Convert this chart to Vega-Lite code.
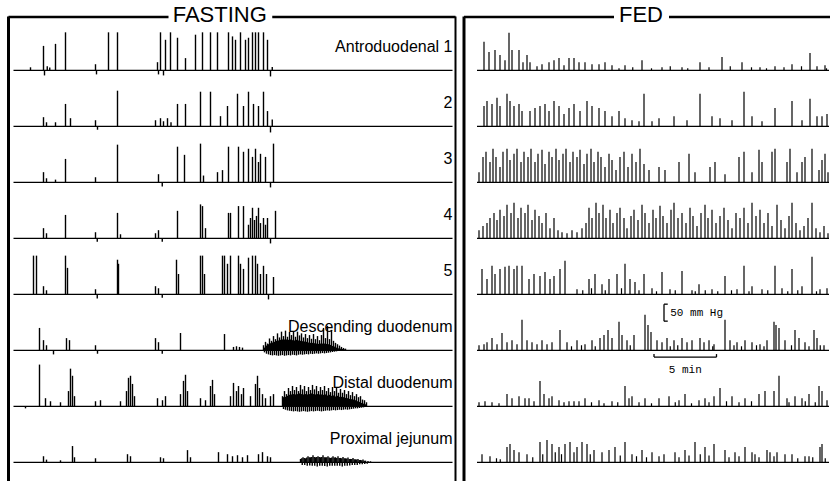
{
"$schema":"https://vega.github.io/schema/vega-lite/v6.json",
"padding":{"left":6.5,"top":0,"right":0,"bottom":0},
"background":"white",
"spacing":4.5,
"config":{"view":{"stroke":null},"font":"Liberation Sans"},
"datasets":{
"fasting":[
{"c":1,"label":"Antroduodenal 1"},{"c":2,"label":"2"},{"c":3,"label":"3"},{"c":4,"label":"4"},{"c":5,"label":"5"},{"c":6,"label":"Descending duodenum"},{"c":7,"label":"Distal duodenum"},{"c":8,"label":"Proximal jejunum"},
{"c":1,"t":1.76,"h":9},{"c":1,"t":2.8,"h":72},{"c":1,"t":2.88,"h":-15},{"c":1,"t":3.1,"h":12},{"c":1,"t":3.3,"h":8},{"c":1,"t":3.76,"h":78},{"c":1,"t":4.56,"h":112},{"c":1,"t":6.96,"h":18},{"c":1,"t":7.04,"h":-12},{"c":1,"t":8.0,"h":112},{"c":1,"t":8.72,"h":112},{"c":1,"t":11.92,"h":24},{"c":1,"t":12.0,"h":-12},{"c":1,"t":12.16,"h":112},{"c":1,"t":12.4,"h":-15},{"c":1,"t":12.56,"h":90},{"c":1,"t":12.96,"h":112},{"c":1,"t":13.52,"h":96},{"c":1,"t":14.16,"h":36},{"c":1,"t":14.96,"h":105},{"c":1,"t":15.52,"h":112},{"c":1,"t":16.16,"h":112},{"c":1,"t":16.72,"h":112},{"c":1,"t":17.6,"h":112},{"c":1,"t":17.92,"h":100},{"c":1,"t":18.16,"h":90},{"c":1,"t":18.56,"h":112},{"c":1,"t":18.96,"h":90},{"c":1,"t":19.2,"h":96},{"c":1,"t":19.52,"h":112},{"c":1,"t":19.76,"h":112},{"c":1,"t":20.0,"h":112},{"c":1,"t":20.4,"h":112},{"c":1,"t":20.72,"h":90},{"c":1,"t":20.96,"h":-18},{"c":1,"t":21.1,"h":10},
{"c":2,"t":2.8,"h":27},{"c":2,"t":3.04,"h":12},{"c":2,"t":3.76,"h":12},{"c":2,"t":4.56,"h":66},{"c":2,"t":4.96,"h":24},{"c":2,"t":6.96,"h":18},{"c":2,"t":7.12,"h":-10},{"c":2,"t":8.72,"h":105},{"c":2,"t":11.76,"h":18},{"c":2,"t":12.16,"h":24},{"c":2,"t":12.4,"h":15},{"c":2,"t":12.72,"h":24},{"c":2,"t":13.0,"h":12},{"c":2,"t":13.52,"h":66},{"c":2,"t":14.16,"h":66},{"c":2,"t":15.36,"h":102},{"c":2,"t":16.16,"h":102},{"c":2,"t":16.96,"h":30},{"c":2,"t":17.52,"h":60},{"c":2,"t":18.32,"h":96},{"c":2,"t":18.8,"h":60},{"c":2,"t":19.2,"h":102},{"c":2,"t":19.6,"h":66},{"c":2,"t":20.0,"h":60},{"c":2,"t":20.4,"h":102},{"c":2,"t":20.72,"h":45},{"c":2,"t":20.96,"h":-18},{"c":2,"t":21.1,"h":20},
{"c":3,"t":2.8,"h":30},{"c":3,"t":3.04,"h":12},{"c":3,"t":3.76,"h":8},{"c":3,"t":4.56,"h":69},{"c":3,"t":6.96,"h":15},{"c":3,"t":8.72,"h":111},{"c":3,"t":12.0,"h":24},{"c":3,"t":12.3,"h":-12},{"c":3,"t":13.52,"h":105},{"c":3,"t":14.08,"h":81},{"c":3,"t":15.36,"h":114},{"c":3,"t":15.6,"h":20},{"c":3,"t":16.72,"h":30},{"c":3,"t":17.12,"h":36},{"c":3,"t":17.6,"h":105},{"c":3,"t":18.4,"h":105},{"c":3,"t":18.8,"h":90},{"c":3,"t":19.2,"h":99},{"c":3,"t":19.52,"h":75},{"c":3,"t":19.76,"h":99},{"c":3,"t":20.0,"h":60},{"c":3,"t":20.16,"h":84},{"c":3,"t":20.56,"h":75},{"c":3,"t":20.96,"h":-15},{"c":3,"t":21.2,"h":114},
{"c":4,"t":2.8,"h":30},{"c":4,"t":3.04,"h":15},{"c":4,"t":4.56,"h":69},{"c":4,"t":6.96,"h":18},{"c":4,"t":7.1,"h":-10},{"c":4,"t":8.72,"h":75},{"c":4,"t":8.96,"h":12},{"c":4,"t":11.76,"h":15},{"c":4,"t":12.0,"h":24},{"c":4,"t":12.3,"h":-10},{"c":4,"t":13.52,"h":81},{"c":4,"t":15.36,"h":100},{"c":4,"t":15.52,"h":95},{"c":4,"t":15.76,"h":30},{"c":4,"t":17.6,"h":75},{"c":4,"t":17.76,"h":75},{"c":4,"t":18.4,"h":95},{"c":4,"t":18.8,"h":95},{"c":4,"t":19.2,"h":40},{"c":4,"t":19.36,"h":60},{"c":4,"t":19.52,"h":90},{"c":4,"t":19.68,"h":54},{"c":4,"t":19.84,"h":66},{"c":4,"t":20.0,"h":90},{"c":4,"t":20.16,"h":45},{"c":4,"t":20.4,"h":60},{"c":4,"t":20.56,"h":40},{"c":4,"t":20.72,"h":60},{"c":4,"t":20.96,"h":-15},{"c":4,"t":21.36,"h":81},
{"c":5,"t":2.0,"h":114},{"c":5,"t":2.24,"h":114},{"c":5,"t":2.8,"h":24},{"c":5,"t":3.04,"h":12},{"c":5,"t":4.56,"h":114},{"c":5,"t":4.72,"h":78},{"c":5,"t":6.96,"h":15},{"c":5,"t":7.1,"h":-12},{"c":5,"t":8.72,"h":102},{"c":5,"t":8.8,"h":90},{"c":5,"t":11.76,"h":24},{"c":5,"t":12.0,"h":18},{"c":5,"t":12.3,"h":-10},{"c":5,"t":13.44,"h":102},{"c":5,"t":13.6,"h":60},{"c":5,"t":15.36,"h":114},{"c":5,"t":15.52,"h":114},{"c":5,"t":15.68,"h":60},{"c":5,"t":17.12,"h":114},{"c":5,"t":17.28,"h":114},{"c":5,"t":17.52,"h":90},{"c":5,"t":17.76,"h":114},{"c":5,"t":18.4,"h":114},{"c":5,"t":18.56,"h":90},{"c":5,"t":18.8,"h":75},{"c":5,"t":19.2,"h":108},{"c":5,"t":19.52,"h":114},{"c":5,"t":19.76,"h":114},{"c":5,"t":19.92,"h":90},{"c":5,"t":20.16,"h":60},{"c":5,"t":20.4,"h":84},{"c":5,"t":20.64,"h":60},{"c":5,"t":20.8,"h":-15},{"c":5,"t":21.2,"h":51},
{"c":6,"t":2.48,"h":66},{"c":6,"t":2.8,"h":30},{"c":6,"t":3.04,"h":15},{"c":6,"t":3.6,"h":-12},{"c":6,"t":4.64,"h":36},{"c":6,"t":4.88,"h":30},{"c":6,"t":6.96,"h":15},{"c":6,"t":7.12,"h":-10},{"c":6,"t":11.76,"h":36},{"c":6,"t":12.0,"h":24},{"c":6,"t":12.3,"h":-10},{"c":6,"t":13.76,"h":51},{"c":6,"t":17.28,"h":48},{"c":6,"t":18.0,"h":10},{"c":6,"t":18.24,"h":12},{"c":6,"t":18.48,"h":10},{"c":6,"t":18.72,"h":8},
{"c":6,"t":20.4,"h":15},{"c":6,"t":20.56,"h":25},{"c":6,"t":20.72,"h":20},{"c":6,"t":20.88,"h":35},{"c":6,"t":21.04,"h":28},{"c":6,"t":21.2,"h":42},{"c":6,"t":21.36,"h":33},{"c":6,"t":21.52,"h":50},{"c":6,"t":21.68,"h":38},{"c":6,"t":21.84,"h":55},{"c":6,"t":22.0,"h":42},{"c":6,"t":22.16,"h":58},{"c":6,"t":22.32,"h":40},{"c":6,"t":22.48,"h":54},{"c":6,"t":22.64,"h":45},{"c":6,"t":22.8,"h":57},{"c":6,"t":22.96,"h":40},{"c":6,"t":23.12,"h":55},{"c":6,"t":23.28,"h":44},{"c":6,"t":23.44,"h":50},{"c":6,"t":23.6,"h":38},{"c":6,"t":23.76,"h":48},{"c":6,"t":23.92,"h":36},{"c":6,"t":24.08,"h":45},{"c":6,"t":24.24,"h":34},{"c":6,"t":24.4,"h":48},{"c":6,"t":24.56,"h":33},{"c":6,"t":24.72,"h":42},{"c":6,"t":24.88,"h":30},{"c":6,"t":25.04,"h":45},{"c":6,"t":25.2,"h":66},{"c":6,"t":25.36,"h":36},{"c":6,"t":25.52,"h":72},{"c":6,"t":25.68,"h":33},{"c":6,"t":25.84,"h":60},{"c":6,"t":26.0,"h":28},{"c":6,"t":26.16,"h":22},{"c":6,"t":26.32,"h":18},{"c":6,"t":26.48,"h":14},{"c":6,"t":26.64,"h":10},{"c":6,"t":26.8,"h":7},{"c":6,"t":26.96,"h":5},
{"c":6,"t":20.48,"h":8},{"c":6,"t":20.64,"h":14},{"c":6,"t":20.8,"h":18},{"c":6,"t":20.96,"h":21},{"c":6,"t":21.12,"h":23},{"c":6,"t":21.28,"h":25},{"c":6,"t":21.44,"h":28},{"c":6,"t":21.6,"h":29},{"c":6,"t":21.76,"h":31},{"c":6,"t":21.92,"h":32},{"c":6,"t":22.08,"h":32},{"c":6,"t":22.24,"h":32},{"c":6,"t":22.4,"h":31},{"c":6,"t":22.56,"h":32},{"c":6,"t":22.72,"h":30},{"c":6,"t":22.88,"h":29},{"c":6,"t":23.04,"h":31},{"c":6,"t":23.2,"h":29},{"c":6,"t":23.36,"h":28},{"c":6,"t":23.52,"h":27},{"c":6,"t":23.68,"h":26},{"c":6,"t":23.84,"h":25},{"c":6,"t":24.0,"h":23},{"c":6,"t":24.16,"h":22},{"c":6,"t":24.32,"h":22},{"c":6,"t":24.48,"h":21},{"c":6,"t":24.64,"h":20},{"c":6,"t":24.8,"h":19},{"c":6,"t":24.96,"h":20},{"c":6,"t":25.12,"h":20},{"c":6,"t":25.28,"h":20},{"c":6,"t":25.44,"h":19},{"c":6,"t":25.6,"h":18},{"c":6,"t":25.76,"h":16},{"c":6,"t":25.92,"h":13},{"c":6,"t":26.08,"h":11},{"c":6,"t":26.24,"h":8},{"c":6,"t":26.4,"h":6},{"c":6,"t":26.56,"h":5},{"c":6,"t":26.72,"h":4},{"c":6,"t":26.88,"h":3},
{"c":6,"t":20.48,"h":-6},{"c":6,"t":20.64,"h":-10},{"c":6,"t":20.8,"h":-12},{"c":6,"t":20.96,"h":-14},{"c":6,"t":21.12,"h":-15},{"c":6,"t":21.28,"h":-14},{"c":6,"t":21.44,"h":-15},{"c":6,"t":21.6,"h":-16},{"c":6,"t":21.76,"h":-15},{"c":6,"t":21.92,"h":-14},{"c":6,"t":22.08,"h":-16},{"c":6,"t":22.24,"h":-15},{"c":6,"t":22.4,"h":-14},{"c":6,"t":22.56,"h":-15},{"c":6,"t":22.72,"h":-13},{"c":6,"t":22.88,"h":-14},{"c":6,"t":23.04,"h":-15},{"c":6,"t":23.2,"h":-13},{"c":6,"t":23.36,"h":-12},{"c":6,"t":23.52,"h":-13},{"c":6,"t":23.68,"h":-12},{"c":6,"t":23.84,"h":-11},{"c":6,"t":24.0,"h":-12},{"c":6,"t":24.16,"h":-10},{"c":6,"t":24.32,"h":-11},{"c":6,"t":24.48,"h":-10},{"c":6,"t":24.64,"h":-9},{"c":6,"t":24.8,"h":-10},{"c":6,"t":24.96,"h":-9},{"c":6,"t":25.12,"h":-8},{"c":6,"t":25.28,"h":-9},{"c":6,"t":25.44,"h":-8},{"c":6,"t":25.6,"h":-7},{"c":6,"t":25.76,"h":-6},{"c":6,"t":25.92,"h":-5},{"c":6,"t":26.08,"h":-4},{"c":6,"t":26.24,"h":-3},
{"c":7,"t":1.36,"h":-6},{"c":7,"t":2.48,"h":123},{"c":7,"t":2.96,"h":24},{"c":7,"t":3.36,"h":15},{"c":7,"t":4.16,"h":12},{"c":7,"t":4.8,"h":45},{"c":7,"t":4.96,"h":111},{"c":7,"t":5.12,"h":90},{"c":7,"t":5.28,"h":30},{"c":7,"t":6.96,"h":15},{"c":7,"t":7.36,"h":18},{"c":7,"t":8.96,"h":15},{"c":7,"t":9.44,"h":45},{"c":7,"t":9.6,"h":84},{"c":7,"t":9.76,"h":90},{"c":7,"t":9.92,"h":66},{"c":7,"t":10.08,"h":30},{"c":7,"t":11.92,"h":24},{"c":7,"t":12.32,"h":18},{"c":7,"t":12.56,"h":30},{"c":7,"t":13.76,"h":36},{"c":7,"t":14.0,"h":75},{"c":7,"t":14.16,"h":93},{"c":7,"t":14.32,"h":45},{"c":7,"t":15.36,"h":24},{"c":7,"t":15.76,"h":18},{"c":7,"t":16.16,"h":60},{"c":7,"t":16.32,"h":78},{"c":7,"t":16.48,"h":36},{"c":7,"t":17.76,"h":30},{"c":7,"t":18.0,"h":69},{"c":7,"t":18.24,"h":45},{"c":7,"t":18.4,"h":60},{"c":7,"t":18.64,"h":36},{"c":7,"t":18.8,"h":54},{"c":7,"t":19.36,"h":30},{"c":7,"t":19.76,"h":66},{"c":7,"t":19.92,"h":90},{"c":7,"t":20.08,"h":54},{"c":7,"t":20.32,"h":36},{"c":7,"t":20.56,"h":24},{"c":7,"t":20.96,"h":30},{"c":7,"t":21.2,"h":36},
{"c":7,"t":21.92,"h":30},{"c":7,"t":22.08,"h":45},{"c":7,"t":22.24,"h":36},{"c":7,"t":22.4,"h":54},{"c":7,"t":22.56,"h":45},{"c":7,"t":22.72,"h":60},{"c":7,"t":22.88,"h":48},{"c":7,"t":23.04,"h":57},{"c":7,"t":23.2,"h":45},{"c":7,"t":23.36,"h":63},{"c":7,"t":23.52,"h":50},{"c":7,"t":23.68,"h":60},{"c":7,"t":23.84,"h":45},{"c":7,"t":24.0,"h":57},{"c":7,"t":24.16,"h":48},{"c":7,"t":24.32,"h":63},{"c":7,"t":24.48,"h":50},{"c":7,"t":24.64,"h":60},{"c":7,"t":24.8,"h":45},{"c":7,"t":24.96,"h":57},{"c":7,"t":25.12,"h":48},{"c":7,"t":25.28,"h":60},{"c":7,"t":25.44,"h":45},{"c":7,"t":25.6,"h":54},{"c":7,"t":25.76,"h":42},{"c":7,"t":25.92,"h":57},{"c":7,"t":26.08,"h":45},{"c":7,"t":26.24,"h":54},{"c":7,"t":26.4,"h":40},{"c":7,"t":26.56,"h":51},{"c":7,"t":26.72,"h":40},{"c":7,"t":26.88,"h":48},{"c":7,"t":27.04,"h":36},{"c":7,"t":27.2,"h":45},{"c":7,"t":27.36,"h":33},{"c":7,"t":27.52,"h":42},{"c":7,"t":27.68,"h":30},{"c":7,"t":27.84,"h":36},{"c":7,"t":28.0,"h":27},{"c":7,"t":28.16,"h":30},{"c":7,"t":28.32,"h":20},{"c":7,"t":28.48,"h":18},{"c":7,"t":28.64,"h":12},
{"c":7,"t":22.0,"h":27},{"c":7,"t":22.16,"h":28},{"c":7,"t":22.32,"h":31},{"c":7,"t":22.48,"h":34},{"c":7,"t":22.64,"h":35},{"c":7,"t":22.8,"h":36},{"c":7,"t":22.96,"h":35},{"c":7,"t":23.12,"h":36},{"c":7,"t":23.28,"h":38},{"c":7,"t":23.44,"h":36},{"c":7,"t":23.6,"h":35},{"c":7,"t":23.76,"h":36},{"c":7,"t":23.92,"h":35},{"c":7,"t":24.08,"h":36},{"c":7,"t":24.24,"h":38},{"c":7,"t":24.4,"h":36},{"c":7,"t":24.56,"h":35},{"c":7,"t":24.72,"h":36},{"c":7,"t":24.88,"h":35},{"c":7,"t":25.04,"h":35},{"c":7,"t":25.2,"h":34},{"c":7,"t":25.36,"h":35},{"c":7,"t":25.52,"h":32},{"c":7,"t":25.68,"h":34},{"c":7,"t":25.84,"h":31},{"c":7,"t":26.0,"h":32},{"c":7,"t":26.16,"h":29},{"c":7,"t":26.32,"h":31},{"c":7,"t":26.48,"h":28},{"c":7,"t":26.64,"h":28},{"c":7,"t":26.8,"h":27},{"c":7,"t":26.96,"h":25},{"c":7,"t":27.12,"h":24},{"c":7,"t":27.28,"h":22},{"c":7,"t":27.44,"h":21},{"c":7,"t":27.6,"h":20},{"c":7,"t":27.76,"h":18},{"c":7,"t":27.92,"h":15},{"c":7,"t":28.08,"h":13},{"c":7,"t":28.24,"h":10},{"c":7,"t":28.4,"h":8},{"c":7,"t":28.56,"h":6},
{"c":7,"t":22.0,"h":-8},{"c":7,"t":22.16,"h":-10},{"c":7,"t":22.32,"h":-12},{"c":7,"t":22.48,"h":-13},{"c":7,"t":22.64,"h":-14},{"c":7,"t":22.8,"h":-15},{"c":7,"t":22.96,"h":-14},{"c":7,"t":23.12,"h":-15},{"c":7,"t":23.28,"h":-16},{"c":7,"t":23.44,"h":-15},{"c":7,"t":23.6,"h":-14},{"c":7,"t":23.76,"h":-15},{"c":7,"t":23.92,"h":-16},{"c":7,"t":24.08,"h":-15},{"c":7,"t":24.24,"h":-14},{"c":7,"t":24.4,"h":-15},{"c":7,"t":24.56,"h":-14},{"c":7,"t":24.72,"h":-13},{"c":7,"t":24.88,"h":-14},{"c":7,"t":25.04,"h":-15},{"c":7,"t":25.2,"h":-14},{"c":7,"t":25.36,"h":-13},{"c":7,"t":25.52,"h":-12},{"c":7,"t":25.68,"h":-13},{"c":7,"t":25.84,"h":-12},{"c":7,"t":26.0,"h":-11},{"c":7,"t":26.16,"h":-12},{"c":7,"t":26.32,"h":-11},{"c":7,"t":26.48,"h":-10},{"c":7,"t":26.64,"h":-11},{"c":7,"t":26.8,"h":-10},{"c":7,"t":26.96,"h":-9},{"c":7,"t":27.12,"h":-10},{"c":7,"t":27.28,"h":-9},{"c":7,"t":27.44,"h":-8},{"c":7,"t":27.6,"h":-7},{"c":7,"t":27.76,"h":-6},{"c":7,"t":27.92,"h":-6},{"c":7,"t":28.08,"h":-5},{"c":7,"t":28.24,"h":-4},{"c":7,"t":28.4,"h":-3},
{"c":8,"t":2.8,"h":18},{"c":8,"t":3.04,"h":8},{"c":8,"t":4.16,"h":6},{"c":8,"t":5.12,"h":48},{"c":8,"t":5.28,"h":15},{"c":8,"t":6.96,"h":12},{"c":8,"t":9.52,"h":24},{"c":8,"t":9.76,"h":18},{"c":8,"t":12.16,"h":15},{"c":8,"t":12.4,"h":12},{"c":8,"t":14.32,"h":36},{"c":8,"t":14.56,"h":15},{"c":8,"t":16.8,"h":30},{"c":8,"t":17.52,"h":24},{"c":8,"t":17.92,"h":18},{"c":8,"t":18.32,"h":21},{"c":8,"t":18.72,"h":15},{"c":8,"t":19.12,"h":21},{"c":8,"t":20.0,"h":24},{"c":8,"t":20.32,"h":30},{"c":8,"t":20.72,"h":18},{"c":8,"t":20.96,"h":15},
{"c":8,"t":23.36,"h":10},{"c":8,"t":23.56,"h":15},{"c":8,"t":23.76,"h":12},{"c":8,"t":23.96,"h":18},{"c":8,"t":24.16,"h":15},{"c":8,"t":24.36,"h":21},{"c":8,"t":24.56,"h":15},{"c":8,"t":24.76,"h":18},{"c":8,"t":24.96,"h":15},{"c":8,"t":25.16,"h":21},{"c":8,"t":25.36,"h":15},{"c":8,"t":25.56,"h":18},{"c":8,"t":25.76,"h":13},{"c":8,"t":25.96,"h":18},{"c":8,"t":26.16,"h":15},{"c":8,"t":26.36,"h":18},{"c":8,"t":26.56,"h":13},{"c":8,"t":26.76,"h":16},{"c":8,"t":26.96,"h":12},{"c":8,"t":27.16,"h":14},{"c":8,"t":27.36,"h":10},{"c":8,"t":27.56,"h":13},{"c":8,"t":27.76,"h":9},{"c":8,"t":27.96,"h":10},{"c":8,"t":28.16,"h":7},{"c":8,"t":28.36,"h":8},{"c":8,"t":28.56,"h":5},{"c":8,"t":28.76,"h":4},{"c":8,"t":28.96,"h":3},
{"c":8,"t":23.46,"h":12},{"c":8,"t":23.66,"h":13},{"c":8,"t":23.86,"h":14},{"c":8,"t":24.06,"h":15},{"c":8,"t":24.26,"h":16},{"c":8,"t":24.46,"h":16},{"c":8,"t":24.66,"h":16},{"c":8,"t":24.86,"h":16},{"c":8,"t":25.06,"h":16},{"c":8,"t":25.26,"h":15},{"c":8,"t":25.46,"h":15},{"c":8,"t":25.66,"h":14},{"c":8,"t":25.86,"h":14},{"c":8,"t":26.06,"h":14},{"c":8,"t":26.26,"h":13},{"c":8,"t":26.46,"h":13},{"c":8,"t":26.66,"h":12},{"c":8,"t":26.86,"h":12},{"c":8,"t":27.06,"h":11},{"c":8,"t":27.26,"h":10},{"c":8,"t":27.46,"h":10},{"c":8,"t":27.66,"h":9},{"c":8,"t":27.86,"h":8},{"c":8,"t":28.06,"h":7},{"c":8,"t":28.26,"h":6},{"c":8,"t":28.46,"h":5},
{"c":8,"t":23.5,"h":-8},{"c":8,"t":23.7,"h":-8},{"c":8,"t":23.9,"h":-10},{"c":8,"t":24.1,"h":-9},{"c":8,"t":24.3,"h":-10},{"c":8,"t":24.5,"h":-10},{"c":8,"t":24.7,"h":-12},{"c":8,"t":24.9,"h":-10},{"c":8,"t":25.1,"h":-10},{"c":8,"t":25.3,"h":-11},{"c":8,"t":25.5,"h":-12},{"c":8,"t":25.7,"h":-10},{"c":8,"t":25.9,"h":-10},{"c":8,"t":26.1,"h":-10},{"c":8,"t":26.3,"h":-10},{"c":8,"t":26.5,"h":-10},{"c":8,"t":26.7,"h":-12},{"c":8,"t":26.9,"h":-10},{"c":8,"t":27.1,"h":-10},{"c":8,"t":27.3,"h":-9},{"c":8,"t":27.5,"h":-8},{"c":8,"t":27.7,"h":-8},{"c":8,"t":27.9,"h":-8},{"c":8,"t":28.1,"h":-6},{"c":8,"t":28.3,"h":-6},{"c":8,"t":28.5,"h":-5},{"c":8,"t":28.7,"h":-4}
],
"fed":[
{"c":1,"label":""},{"c":2,"label":""},{"c":3,"label":""},{"c":4,"label":""},{"c":5,"label":""},{"c":6,"label":""},{"c":7,"label":""},{"c":8,"label":""},
{"c":1,"t":1.6,"h":84},{"c":1,"t":2.0,"h":54},{"c":1,"t":2.48,"h":60},{"c":1,"t":2.88,"h":45},{"c":1,"t":3.28,"h":30},{"c":1,"t":3.6,"h":111},{"c":1,"t":3.84,"h":60},{"c":1,"t":4.4,"h":60},{"c":1,"t":4.72,"h":24},{"c":1,"t":5.04,"h":45},{"c":1,"t":5.28,"h":24},{"c":1,"t":5.84,"h":12},{"c":1,"t":6.24,"h":18},{"c":1,"t":6.8,"h":24},{"c":1,"t":7.2,"h":30},{"c":1,"t":7.6,"h":36},{"c":1,"t":8.0,"h":15},{"c":1,"t":8.4,"h":36},{"c":1,"t":8.8,"h":36},{"c":1,"t":9.2,"h":24},{"c":1,"t":9.68,"h":24},{"c":1,"t":10.24,"h":18},{"c":1,"t":10.8,"h":18},{"c":1,"t":11.28,"h":24},{"c":1,"t":11.84,"h":15},{"c":1,"t":12.88,"h":15},{"c":1,"t":14.24,"h":30},{"c":1,"t":15.84,"h":9},{"c":1,"t":17.44,"h":9},{"c":1,"t":18.88,"h":24},{"c":1,"t":20.64,"h":39},{"c":1,"t":22.24,"h":24},{"c":1,"t":23.68,"h":9},{"c":1,"t":24.88,"h":12},{"c":1,"t":26.24,"h":18},{"c":1,"t":27.68,"h":51},{"c":1,"t":28.24,"h":12},{"c":1,"t":28.88,"h":15},
{"c":1,"t":12.4,"h":6},{"c":1,"t":13.5,"h":9},{"c":1,"t":15.0,"h":6},{"c":1,"t":16.5,"h":12},{"c":1,"t":17.9,"h":6},{"c":1,"t":19.6,"h":9},{"c":1,"t":21.3,"h":12},{"c":1,"t":23.0,"h":9},{"c":1,"t":24.2,"h":6},{"c":1,"t":25.6,"h":9},{"c":1,"t":27.0,"h":12},{"c":1,"t":29.0,"h":6},
{"c":2,"t":1.6,"h":60},{"c":2,"t":1.84,"h":75},{"c":2,"t":2.24,"h":66},{"c":2,"t":2.64,"h":84},{"c":2,"t":2.88,"h":60},{"c":2,"t":3.44,"h":96},{"c":2,"t":3.68,"h":75},{"c":2,"t":4.0,"h":60},{"c":2,"t":4.4,"h":66},{"c":2,"t":4.64,"h":45},{"c":2,"t":5.28,"h":45},{"c":2,"t":5.68,"h":54},{"c":2,"t":6.08,"h":60},{"c":2,"t":6.48,"h":66},{"c":2,"t":6.8,"h":45},{"c":2,"t":7.2,"h":75},{"c":2,"t":7.6,"h":60},{"c":2,"t":8.0,"h":36},{"c":2,"t":8.4,"h":54},{"c":2,"t":8.8,"h":66},{"c":2,"t":9.28,"h":45},{"c":2,"t":9.84,"h":75},{"c":2,"t":10.24,"h":60},{"c":2,"t":10.8,"h":54},{"c":2,"t":11.28,"h":45},{"c":2,"t":11.84,"h":30},{"c":2,"t":12.4,"h":45},{"c":2,"t":12.88,"h":24},{"c":2,"t":13.44,"h":18},{"c":2,"t":14.0,"h":15},{"c":2,"t":14.4,"h":96},{"c":2,"t":15.04,"h":15},{"c":2,"t":15.6,"h":24},{"c":2,"t":16.8,"h":30},{"c":2,"t":17.84,"h":18},{"c":2,"t":18.88,"h":96},{"c":2,"t":19.84,"h":30},{"c":2,"t":20.48,"h":24},{"c":2,"t":21.44,"h":18},{"c":2,"t":22.4,"h":102},{"c":2,"t":23.04,"h":30},{"c":2,"t":23.84,"h":15},{"c":2,"t":24.88,"h":54},{"c":2,"t":26.24,"h":75},{"c":2,"t":27.04,"h":18},{"c":2,"t":27.68,"h":81},{"c":2,"t":28.24,"h":30},{"c":2,"t":28.64,"h":30},{"c":2,"t":29.04,"h":36},
{"c":3,"t":1.2,"h":30},{"c":3,"t":1.52,"h":75},{"c":3,"t":1.76,"h":90},{"c":3,"t":2.08,"h":60},{"c":3,"t":2.32,"h":99},{"c":3,"t":2.56,"h":75},{"c":3,"t":2.88,"h":45},{"c":3,"t":3.12,"h":90},{"c":3,"t":3.44,"h":99},{"c":3,"t":3.68,"h":66},{"c":3,"t":4.0,"h":84},{"c":3,"t":4.24,"h":99},{"c":3,"t":4.56,"h":60},{"c":3,"t":4.8,"h":90},{"c":3,"t":5.12,"h":75},{"c":3,"t":5.36,"h":99},{"c":3,"t":5.68,"h":60},{"c":3,"t":5.92,"h":84},{"c":3,"t":6.24,"h":96},{"c":3,"t":6.48,"h":54},{"c":3,"t":6.8,"h":90},{"c":3,"t":7.04,"h":75},{"c":3,"t":7.36,"h":99},{"c":3,"t":7.6,"h":66},{"c":3,"t":7.92,"h":84},{"c":3,"t":8.16,"h":99},{"c":3,"t":8.48,"h":60},{"c":3,"t":8.72,"h":90},{"c":3,"t":9.04,"h":75},{"c":3,"t":9.28,"h":96},{"c":3,"t":9.6,"h":54},{"c":3,"t":9.84,"h":84},{"c":3,"t":10.16,"h":99},{"c":3,"t":10.4,"h":60},{"c":3,"t":10.72,"h":90},{"c":3,"t":10.96,"h":75},{"c":3,"t":11.28,"h":45},{"c":3,"t":11.6,"h":84},{"c":3,"t":11.84,"h":66},{"c":3,"t":12.16,"h":36},{"c":3,"t":12.48,"h":75},{"c":3,"t":12.8,"h":90},{"c":3,"t":13.12,"h":45},{"c":3,"t":13.44,"h":84},{"c":3,"t":13.76,"h":60},{"c":3,"t":14.08,"h":99},{"c":3,"t":14.4,"h":54},{"c":3,"t":14.8,"h":36},{"c":3,"t":15.6,"h":45},{"c":3,"t":16.08,"h":36},{"c":3,"t":17.2,"h":60},{"c":3,"t":18.0,"h":84},{"c":3,"t":18.48,"h":30},{"c":3,"t":19.68,"h":45},{"c":3,"t":20.08,"h":60},{"c":3,"t":20.88,"h":24},{"c":3,"t":22.0,"h":75},{"c":3,"t":22.4,"h":90},{"c":3,"t":23.04,"h":30},{"c":3,"t":23.6,"h":96},{"c":3,"t":23.84,"h":60},{"c":3,"t":24.64,"h":90},{"c":3,"t":24.88,"h":99},{"c":3,"t":25.84,"h":60},{"c":3,"t":26.08,"h":99},{"c":3,"t":26.64,"h":30},{"c":3,"t":27.04,"h":60},{"c":3,"t":27.28,"h":75},{"c":3,"t":27.84,"h":99},{"c":3,"t":28.4,"h":36},{"c":3,"t":28.64,"h":66},{"c":3,"t":28.88,"h":84},{"c":3,"t":29.12,"h":30},
{"c":4,"t":1.2,"h":24},{"c":4,"t":1.52,"h":36},{"c":4,"t":1.84,"h":45},{"c":4,"t":2.08,"h":60},{"c":4,"t":2.4,"h":75},{"c":4,"t":2.64,"h":54},{"c":4,"t":2.88,"h":84},{"c":4,"t":3.2,"h":66},{"c":4,"t":3.44,"h":99},{"c":4,"t":3.76,"h":75},{"c":4,"t":4.0,"h":105},{"c":4,"t":4.32,"h":60},{"c":4,"t":4.56,"h":90},{"c":4,"t":4.88,"h":75},{"c":4,"t":5.12,"h":99},{"c":4,"t":5.44,"h":54},{"c":4,"t":5.68,"h":84},{"c":4,"t":6.0,"h":66},{"c":4,"t":6.24,"h":45},{"c":4,"t":6.56,"h":75},{"c":4,"t":6.88,"h":30},{"c":4,"t":7.2,"h":60},{"c":4,"t":7.52,"h":24},{"c":4,"t":7.84,"h":18},{"c":4,"t":8.24,"h":15},{"c":4,"t":8.64,"h":24},{"c":4,"t":9.04,"h":18},{"c":4,"t":9.44,"h":30},{"c":4,"t":9.76,"h":45},{"c":4,"t":10.0,"h":90},{"c":4,"t":10.24,"h":60},{"c":4,"t":10.56,"h":105},{"c":4,"t":10.8,"h":75},{"c":4,"t":11.12,"h":99},{"c":4,"t":11.36,"h":60},{"c":4,"t":11.68,"h":84},{"c":4,"t":11.92,"h":45},{"c":4,"t":12.24,"h":75},{"c":4,"t":12.48,"h":90},{"c":4,"t":12.8,"h":60},{"c":4,"t":13.04,"h":30},{"c":4,"t":13.36,"h":66},{"c":4,"t":13.6,"h":84},{"c":4,"t":13.92,"h":54},{"c":4,"t":14.24,"h":99},{"c":4,"t":14.48,"h":75},{"c":4,"t":14.8,"h":45},{"c":4,"t":15.12,"h":84},{"c":4,"t":15.36,"h":60},{"c":4,"t":15.68,"h":96},{"c":4,"t":15.92,"h":66},{"c":4,"t":16.24,"h":45},{"c":4,"t":16.56,"h":84},{"c":4,"t":16.8,"h":105},{"c":4,"t":17.12,"h":60},{"c":4,"t":17.44,"h":75},{"c":4,"t":17.76,"h":45},{"c":4,"t":18.08,"h":90},{"c":4,"t":18.32,"h":66},{"c":4,"t":18.64,"h":36},{"c":4,"t":18.96,"h":75},{"c":4,"t":19.28,"h":99},{"c":4,"t":19.52,"h":60},{"c":4,"t":19.84,"h":84},{"c":4,"t":20.16,"h":45},{"c":4,"t":20.48,"h":66},{"c":4,"t":20.8,"h":90},{"c":4,"t":21.12,"h":54},{"c":4,"t":21.44,"h":30},{"c":4,"t":21.76,"h":75},{"c":4,"t":22.08,"h":60},{"c":4,"t":22.4,"h":90},{"c":4,"t":22.72,"h":45},{"c":4,"t":23.04,"h":105},{"c":4,"t":23.36,"h":66},{"c":4,"t":23.68,"h":84},{"c":4,"t":24.0,"h":45},{"c":4,"t":24.32,"h":75},{"c":4,"t":24.64,"h":36},{"c":4,"t":25.04,"h":99},{"c":4,"t":25.36,"h":54},{"c":4,"t":25.68,"h":30},{"c":4,"t":26.0,"h":66},{"c":4,"t":26.24,"h":105},{"c":4,"t":26.56,"h":45},{"c":4,"t":26.88,"h":24},{"c":4,"t":27.2,"h":36},{"c":4,"t":27.52,"h":60},{"c":4,"t":27.84,"h":105},{"c":4,"t":28.16,"h":30},{"c":4,"t":28.48,"h":18},{"c":4,"t":28.8,"h":36},{"c":4,"t":29.12,"h":15},
{"c":5,"t":1.44,"h":75},{"c":5,"t":1.84,"h":45},{"c":5,"t":2.24,"h":84},{"c":5,"t":2.48,"h":60},{"c":5,"t":2.88,"h":75},{"c":5,"t":3.28,"h":81},{"c":5,"t":3.6,"h":84},{"c":5,"t":4.0,"h":75},{"c":5,"t":4.24,"h":84},{"c":5,"t":4.64,"h":84},{"c":5,"t":5.2,"h":45},{"c":5,"t":5.6,"h":60},{"c":5,"t":6.08,"h":54},{"c":5,"t":6.48,"h":66},{"c":5,"t":6.88,"h":45},{"c":5,"t":7.2,"h":54},{"c":5,"t":7.68,"h":75},{"c":5,"t":8.08,"h":99},{"c":5,"t":9.04,"h":15},{"c":5,"t":10.0,"h":45},{"c":5,"t":10.48,"h":60},{"c":5,"t":11.04,"h":30},{"c":5,"t":11.6,"h":45},{"c":5,"t":12.24,"h":60},{"c":5,"t":12.88,"h":90},{"c":5,"t":13.28,"h":45},{"c":5,"t":13.68,"h":36},{"c":5,"t":14.4,"h":60},{"c":5,"t":15.04,"h":18},{"c":5,"t":15.84,"h":66},{"c":5,"t":16.48,"h":15},{"c":5,"t":17.44,"h":69},{"c":5,"t":18.24,"h":12},{"c":5,"t":18.8,"h":30},{"c":5,"t":19.84,"h":15},{"c":5,"t":20.88,"h":54},{"c":5,"t":21.84,"h":15},{"c":5,"t":22.4,"h":84},{"c":5,"t":23.04,"h":24},{"c":5,"t":23.84,"h":15},{"c":5,"t":24.88,"h":84},{"c":5,"t":25.44,"h":18},{"c":5,"t":26.24,"h":75},{"c":5,"t":27.04,"h":24},{"c":5,"t":27.84,"h":111},{"c":5,"t":28.48,"h":15},{"c":5,"t":29.04,"h":18},
{"c":5,"t":9.5,"h":12},{"c":5,"t":10.2,"h":18},{"c":5,"t":11.3,"h":12},{"c":5,"t":12.6,"h":18},{"c":5,"t":14.0,"h":12},{"c":5,"t":15.4,"h":9},{"c":5,"t":16.9,"h":12},{"c":5,"t":18.5,"h":9},{"c":5,"t":19.3,"h":12},{"c":5,"t":20.3,"h":9},{"c":5,"t":21.4,"h":12},{"c":5,"t":22.8,"h":9},{"c":5,"t":24.3,"h":12},{"c":5,"t":25.9,"h":9},{"c":5,"t":26.7,"h":12},{"c":5,"t":28.2,"h":9},
{"c":6,"t":1.2,"h":15},{"c":6,"t":1.6,"h":18},{"c":6,"t":1.84,"h":24},{"c":6,"t":2.24,"h":36},{"c":6,"t":2.64,"h":18},{"c":6,"t":3.04,"h":51},{"c":6,"t":3.44,"h":24},{"c":6,"t":3.84,"h":30},{"c":6,"t":4.24,"h":18},{"c":6,"t":4.64,"h":90},{"c":6,"t":5.04,"h":30},{"c":6,"t":5.44,"h":24},{"c":6,"t":5.84,"h":18},{"c":6,"t":6.24,"h":30},{"c":6,"t":6.64,"h":18},{"c":6,"t":7.04,"h":24},{"c":6,"t":7.68,"h":60},{"c":6,"t":8.24,"h":24},{"c":6,"t":9.04,"h":30},{"c":6,"t":9.68,"h":18},{"c":6,"t":10.24,"h":30},{"c":6,"t":10.88,"h":36},{"c":6,"t":11.2,"h":45},{"c":6,"t":11.52,"h":60},{"c":6,"t":11.84,"h":36},{"c":6,"t":12.4,"h":84},{"c":6,"t":12.64,"h":45},{"c":6,"t":13.04,"h":30},{"c":6,"t":13.6,"h":45},{"c":6,"t":14.48,"h":105},{"c":6,"t":14.72,"h":75},{"c":6,"t":14.96,"h":54},{"c":6,"t":15.44,"h":30},{"c":6,"t":15.84,"h":24},{"c":6,"t":16.24,"h":36},{"c":6,"t":16.8,"h":30},{"c":6,"t":17.44,"h":36},{"c":6,"t":17.84,"h":24},{"c":6,"t":18.24,"h":30},{"c":6,"t":18.88,"h":36},{"c":6,"t":19.2,"h":24},{"c":6,"t":19.6,"h":30},{"c":6,"t":20.0,"h":18},{"c":6,"t":20.88,"h":90},{"c":6,"t":21.28,"h":30},{"c":6,"t":21.84,"h":24},{"c":6,"t":22.48,"h":30},{"c":6,"t":23.04,"h":24},{"c":6,"t":23.68,"h":18},{"c":6,"t":24.24,"h":30},{"c":6,"t":24.8,"h":84},{"c":6,"t":24.96,"h":75},{"c":6,"t":25.2,"h":66},{"c":6,"t":25.68,"h":30},{"c":6,"t":26.48,"h":60},{"c":6,"t":26.8,"h":36},{"c":6,"t":27.28,"h":24},{"c":6,"t":28.0,"h":60},{"c":6,"t":28.24,"h":36},{"c":6,"t":28.8,"h":15},
{"c":6,"t":8.6,"h":12},{"c":6,"t":9.4,"h":15},{"c":6,"t":10.5,"h":12},{"c":6,"t":13.3,"h":15},{"c":6,"t":16.5,"h":12},{"c":6,"t":17.1,"h":15},{"c":6,"t":19.9,"h":12},{"c":6,"t":21.6,"h":15},{"c":6,"t":22.2,"h":12},{"c":6,"t":23.4,"h":15},{"c":6,"t":24.0,"h":12},{"c":6,"t":26.2,"h":15},{"c":6,"t":27.6,"h":12},{"c":6,"t":28.5,"h":15},
{"c":7,"t":1.2,"h":12},{"c":7,"t":1.68,"h":15},{"c":7,"t":2.24,"h":12},{"c":7,"t":3.44,"h":36},{"c":7,"t":3.84,"h":24},{"c":7,"t":4.4,"h":30},{"c":7,"t":4.88,"h":24},{"c":7,"t":5.2,"h":24},{"c":7,"t":6.08,"h":75},{"c":7,"t":6.4,"h":36},{"c":7,"t":6.8,"h":24},{"c":7,"t":7.04,"h":30},{"c":7,"t":7.6,"h":18},{"c":7,"t":8.4,"h":15},{"c":7,"t":8.8,"h":15},{"c":7,"t":9.2,"h":15},{"c":7,"t":9.68,"h":24},{"c":7,"t":10.8,"h":18},{"c":7,"t":11.84,"h":15},{"c":7,"t":12.88,"h":60},{"c":7,"t":13.2,"h":24},{"c":7,"t":13.44,"h":30},{"c":7,"t":14.48,"h":24},{"c":7,"t":15.6,"h":24},{"c":7,"t":16.4,"h":30},{"c":7,"t":17.2,"h":18},{"c":7,"t":17.68,"h":36},{"c":7,"t":18.8,"h":18},{"c":7,"t":19.28,"h":24},{"c":7,"t":20.0,"h":30},{"c":7,"t":20.48,"h":54},{"c":7,"t":21.44,"h":30},{"c":7,"t":22.48,"h":24},{"c":7,"t":23.6,"h":36},{"c":7,"t":24.08,"h":45},{"c":7,"t":24.8,"h":45},{"c":7,"t":25.2,"h":90},{"c":7,"t":25.84,"h":24},{"c":7,"t":26.48,"h":30},{"c":7,"t":27.04,"h":24},{"c":7,"t":27.6,"h":36},{"c":7,"t":28.4,"h":60},{"c":7,"t":28.64,"h":45},{"c":7,"t":29.04,"h":18},
{"c":7,"t":2.8,"h":9},{"c":7,"t":5.6,"h":15},{"c":7,"t":8.0,"h":12},{"c":7,"t":10.2,"h":12},{"c":7,"t":11.2,"h":9},{"c":7,"t":12.3,"h":12},{"c":7,"t":14.0,"h":12},{"c":7,"t":15.0,"h":9},{"c":7,"t":16.9,"h":12},{"c":7,"t":18.2,"h":9},{"c":7,"t":19.6,"h":12},{"c":7,"t":21.0,"h":15},{"c":7,"t":22.0,"h":12},{"c":7,"t":23.0,"h":15},{"c":7,"t":26.0,"h":12},{"c":7,"t":27.3,"h":15},{"c":7,"t":28.1,"h":12},
{"c":8,"t":1.44,"h":24},{"c":8,"t":2.08,"h":18},{"c":8,"t":3.44,"h":45},{"c":8,"t":3.68,"h":54},{"c":8,"t":4.0,"h":36},{"c":8,"t":4.4,"h":30},{"c":8,"t":5.04,"h":24},{"c":8,"t":6.08,"h":60},{"c":8,"t":6.64,"h":66},{"c":8,"t":7.04,"h":54},{"c":8,"t":7.6,"h":45},{"c":8,"t":8.08,"h":54},{"c":8,"t":8.48,"h":60},{"c":8,"t":9.04,"h":45},{"c":8,"t":9.44,"h":60},{"c":8,"t":9.84,"h":54},{"c":8,"t":10.4,"h":36},{"c":8,"t":11.04,"h":30},{"c":8,"t":11.6,"h":36},{"c":8,"t":12.08,"h":45},{"c":8,"t":12.88,"h":60},{"c":8,"t":13.44,"h":24},{"c":8,"t":14.24,"h":36},{"c":8,"t":15.04,"h":30},{"c":8,"t":16.0,"h":24},{"c":8,"t":16.88,"h":30},{"c":8,"t":17.68,"h":36},{"c":8,"t":18.48,"h":60},{"c":8,"t":19.28,"h":45},{"c":8,"t":20.0,"h":54},{"c":8,"t":20.88,"h":36},{"c":8,"t":21.68,"h":30},{"c":8,"t":22.48,"h":45},{"c":8,"t":23.04,"h":30},{"c":8,"t":23.28,"h":24},{"c":8,"t":24.24,"h":36},{"c":8,"t":24.48,"h":30},{"c":8,"t":25.04,"h":30},{"c":8,"t":25.68,"h":24},{"c":8,"t":26.24,"h":24},{"c":8,"t":27.28,"h":18},{"c":8,"t":27.6,"h":18},{"c":8,"t":28.48,"h":45},{"c":8,"t":28.64,"h":54},
{"c":8,"t":2.6,"h":12},{"c":8,"t":2.9,"h":9},{"c":8,"t":5.5,"h":15},{"c":8,"t":6.3,"h":24},{"c":8,"t":7.3,"h":30},{"c":8,"t":7.8,"h":24},{"c":8,"t":8.8,"h":30},{"c":8,"t":10.1,"h":24},{"c":8,"t":12.5,"h":20},{"c":8,"t":13.8,"h":18},{"c":8,"t":14.6,"h":15},{"c":8,"t":15.6,"h":18},{"c":8,"t":17.2,"h":15},{"c":8,"t":18.0,"h":20},{"c":8,"t":18.9,"h":24},{"c":8,"t":19.6,"h":20},{"c":8,"t":21.2,"h":15},{"c":8,"t":22.0,"h":18},{"c":8,"t":23.6,"h":15},{"c":8,"t":24.8,"h":18},{"c":8,"t":26.7,"h":12},{"c":8,"t":27.9,"h":15},{"c":8,"t":28.9,"h":12}
]},
"hconcat":[
{"spacing":0,"bounds":"flush","vconcat":[
 {"width":447,"height":33,"data":{"values":[{}]},
  "layer":[
   {"mark":{"type":"rule","strokeWidth":2.5,"color":"#000"},"encoding":{"x":{"datum":0,"type":"quantitative","scale":{"domain":[0,35.76],"nice":false,"zero":false},"axis":null},"x2":{"datum":12.8},"y":{"datum":16,"type":"quantitative","scale":{"domain":[0,33],"nice":false,"zero":false},"axis":null}}},
   {"mark":{"type":"rule","strokeWidth":2.5,"color":"#000"},"encoding":{"x":{"datum":21.1,"type":"quantitative"},"x2":{"datum":35.76},"y":{"datum":16,"type":"quantitative"}}},
   {"mark":{"type":"rule","strokeWidth":3,"color":"#000"},"encoding":{"x":{"datum":0,"type":"quantitative"},"y":{"datum":16.5,"type":"quantitative"},"y2":{"datum":0}}},
   {"mark":{"type":"rule","strokeWidth":2,"color":"#000"},"encoding":{"x":{"datum":35.76,"type":"quantitative"},"y":{"datum":16.5,"type":"quantitative"},"y2":{"datum":0}}},
   {"mark":{"type":"text","text":"FASTING","font":"Liberation Sans","fontSize":22,"baseline":"alphabetic","align":"center","color":"#000"},"encoding":{"x":{"datum":16.9,"type":"quantitative"},"y":{"datum":11,"type":"quantitative"}}}
  ]},
 {"data":{"name":"fasting"},"bounds":"flush","spacing":0,
  "facet":{"row":{"field":"c","type":"ordinal","header":null}},
  "spec":{"width":447,"height":56,"layer":[
   {"transform":[{"filter":"datum.label != null"}],"mark":{"type":"rule","strokeWidth":1.3,"color":"#000"},"encoding":{"x":{"datum":0.4,"type":"quantitative","scale":{"domain":[0,35.76],"nice":false,"zero":false},"axis":null},"x2":{"datum":35.52},"y":{"datum":0,"type":"quantitative","scale":{"domain":[-55,110],"nice":false,"zero":false},"axis":null}}},
   {"transform":[{"filter":"isValid(datum.h)"}],"mark":{"type":"rule","strokeWidth":1.4,"color":"#000"},"encoding":{"x":{"field":"t","type":"quantitative"},"y":{"field":"h","type":"quantitative"},"y2":{"datum":0}}},
   {"transform":[{"filter":"datum.label != null"}],"mark":{"type":"text","align":"right","baseline":"middle","font":"Liberation Sans","fontSize":16,"color":"#000"},"encoding":{"x":{"datum":35.52,"type":"quantitative"},"y":{"datum":68,"type":"quantitative"},"text":{"field":"label"}}},
   {"transform":[{"filter":"datum.label != null"}],"mark":{"type":"rule","strokeWidth":3,"color":"#000"},"encoding":{"x":{"datum":0,"type":"quantitative"}}},
   {"transform":[{"filter":"datum.label != null"}],"mark":{"type":"rule","strokeWidth":2,"color":"#000"},"encoding":{"x":{"datum":35.76,"type":"quantitative"}}}
  ]}}
]},
{"spacing":0,"bounds":"flush","vconcat":[
 {"width":368,"height":33,"data":{"values":[{}]},
  "layer":[
   {"mark":{"type":"rule","strokeWidth":2.5,"color":"#000"},"encoding":{"x":{"datum":0,"type":"quantitative","scale":{"domain":[0,29.44],"nice":false,"zero":false},"axis":null},"x2":{"datum":12.0},"y":{"datum":16,"type":"quantitative","scale":{"domain":[0,33],"nice":false,"zero":false},"axis":null}}},
   {"mark":{"type":"rule","strokeWidth":2.5,"color":"#000"},"encoding":{"x":{"datum":16.4,"type":"quantitative"},"x2":{"datum":29.44},"y":{"datum":16,"type":"quantitative"}}},
   {"mark":{"type":"rule","strokeWidth":3,"color":"#000"},"encoding":{"x":{"datum":0,"type":"quantitative"},"y":{"datum":16.5,"type":"quantitative"},"y2":{"datum":0}}},
   {"mark":{"type":"text","text":"FED","font":"Liberation Sans","fontSize":22,"baseline":"alphabetic","align":"center","color":"#000"},"encoding":{"x":{"datum":14.16,"type":"quantitative"},"y":{"datum":11,"type":"quantitative"}}}
  ]},
 {"data":{"name":"fed"},"bounds":"flush","spacing":0,
  "facet":{"row":{"field":"c","type":"ordinal","header":null}},
  "spec":{"width":368,"height":56,"layer":[
   {"transform":[{"filter":"datum.label != null"}],"mark":{"type":"rule","strokeWidth":1.3,"color":"#000"},"encoding":{"x":{"datum":1.04,"type":"quantitative","scale":{"domain":[0,29.44],"nice":false,"zero":false},"axis":null},"x2":{"datum":29.2},"y":{"datum":0,"type":"quantitative","scale":{"domain":[-55,110],"nice":false,"zero":false},"axis":null}}},
   {"transform":[{"filter":"isValid(datum.h)"}],"mark":{"type":"rule","strokeWidth":1.2,"color":"#000"},"encoding":{"x":{"field":"t","type":"quantitative"},"y":{"field":"h","type":"quantitative"},"y2":{"datum":0}}},
   {"transform":[{"filter":"datum.label != null"}],"mark":{"type":"rule","strokeWidth":3,"color":"#000"},"encoding":{"x":{"datum":0,"type":"quantitative"}}},
   {"transform":[{"filter":"datum.label != null && datum.c == 6"}],"mark":{"type":"rule","strokeWidth":1.3,"color":"#000"},"encoding":{"x":{"datum":16.0,"type":"quantitative"},"y":{"datum":86,"type":"quantitative"},"y2":{"datum":136}}},
   {"transform":[{"filter":"datum.label != null && datum.c == 6"}],"mark":{"type":"rule","strokeWidth":1.3,"color":"#000"},"encoding":{"x":{"datum":16.0,"type":"quantitative"},"x2":{"datum":16.3},"y":{"datum":136,"type":"quantitative"}}},
   {"transform":[{"filter":"datum.label != null && datum.c == 6"}],"mark":{"type":"rule","strokeWidth":1.3,"color":"#000"},"encoding":{"x":{"datum":16.0,"type":"quantitative"},"x2":{"datum":16.3},"y":{"datum":86,"type":"quantitative"}}},
   {"transform":[{"filter":"datum.label != null && datum.c == 6"}],"mark":{"type":"text","text":"50 mm Hg","align":"left","baseline":"middle","font":"Liberation Mono","fontSize":11,"color":"#000"},"encoding":{"x":{"datum":16.5,"type":"quantitative"},"y":{"datum":111,"type":"quantitative"}}},
   {"transform":[{"filter":"datum.label != null && datum.c == 6"}],"mark":{"type":"rule","strokeWidth":1.3,"color":"#000"},"encoding":{"x":{"datum":15.2,"type":"quantitative"},"x2":{"datum":20.2},"y":{"datum":-20,"type":"quantitative"}}},
   {"transform":[{"filter":"datum.label != null && datum.c == 6"}],"mark":{"type":"rule","strokeWidth":1.3,"color":"#000"},"encoding":{"x":{"datum":15.2,"type":"quantitative"},"y":{"datum":-20,"type":"quantitative"},"y2":{"datum":-11}}},
   {"transform":[{"filter":"datum.label != null && datum.c == 6"}],"mark":{"type":"rule","strokeWidth":1.3,"color":"#000"},"encoding":{"x":{"datum":20.2,"type":"quantitative"},"y":{"datum":-20,"type":"quantitative"},"y2":{"datum":-11}}},
   {"transform":[{"filter":"datum.label != null && datum.c == 6"}],"mark":{"type":"text","text":"5 min","align":"center","baseline":"middle","font":"Liberation Mono","fontSize":11,"color":"#000"},"encoding":{"x":{"datum":17.7,"type":"quantitative"},"y":{"datum":-59,"type":"quantitative"}}}
  ]}}
]}
]
}
